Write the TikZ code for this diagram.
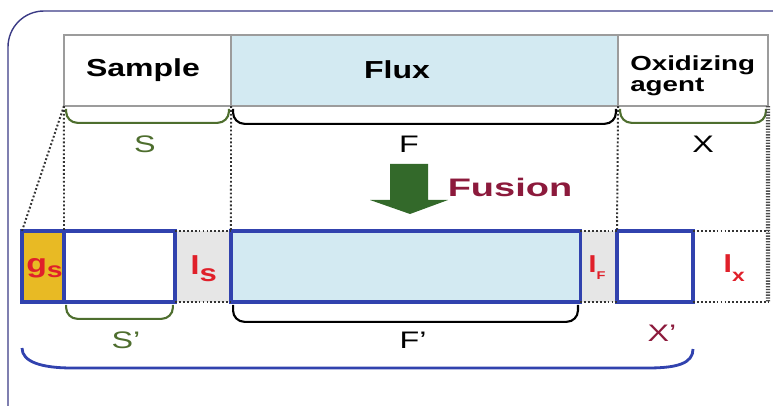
\documentclass[tikz,border=0pt]{standalone}
\usepackage{fontspec}
\setmainfont{Liberation Sans}
\usepackage{graphicx}
\usetikzlibrary{positioning,calc}

\definecolor{frameblue}{HTML}{3A3A85}
\definecolor{boxgray}{HTML}{9C9C9C}
\definecolor{fluxblue}{HTML}{D3EAF2}
\definecolor{leafgreen}{HTML}{4E6E2E}
\definecolor{arrowgreen}{HTML}{33692A}
\definecolor{wine}{HTML}{8C1A3C}
\definecolor{labred}{HTML}{E0202A}
\definecolor{rimblue}{HTML}{3142AE}
\definecolor{gold}{HTML}{E8BA24}
\definecolor{lossgray}{HTML}{E6E6E6}

\newcommand{\wide}[2][1.35]{\scalebox{#1}[1]{#2}}
\newcommand{\losslab}[4]{\wide[1.3]{#1\raisebox{-#4}{\fontsize{#3}{#3}\selectfont #2}}}

\begin{document}
\begin{tikzpicture}[
    x=0.025cm, y=-0.025cm,
    tbox/.style={draw=boxgray, line width=1.4pt, inner sep=0pt, outer sep=0pt, minimum height=1.775cm},
    bbox/.style={draw=rimblue, line width=2.2pt, inner sep=0pt, outer sep=0pt, minimum height=1.775cm},
    gbox/.style={inner sep=0pt, outer sep=0pt, minimum height=1.775cm},
    hd/.style={inner sep=0pt, font=\bfseries\fontsize{17.5}{20}\selectfont},
    hdsm/.style={inner sep=0pt, anchor=base west, font=\bfseries\fontsize{14.5}{15}\selectfont},
    lbl/.style={inner sep=0pt, font=\fontsize{17}{20}\selectfont},
    loss/.style={inner sep=0pt, anchor=base west, text=labred, font=\bfseries\fontsize{18.5}{20}\selectfont},
    dots/.style={dash pattern=on 1.3pt off 1.5pt, line width=1.4pt, black!80},
    brc/.style={line width=1.5pt, rounded corners=8pt}
]
\useasboundingbox (0,0) rectangle (773,406);
\draw[frameblue, line width=1pt, rounded corners=0.9cm] (8,406) -- (8,11) -- (773,11);

\node[tbox, fill=white, minimum width=4.175cm] (sample) at (147.5,70.5) {};
\node[tbox, fill=fluxblue, minimum width=9.675cm] (flux) at (424.5,70.5) {};
\node[tbox, fill=white, minimum width=3.75cm] (oxid) at (693,70.5) {};
\node[hd] (samtxt) at (143,70) {\wide[1.3]{Sample}};
\node[hd] (flxtxt) at (397,70) {\wide[1.3]{Flux}};
\node[hdsm] (oxtxt) at (630,71) {\wide[1.36]{Oxidizing}};
\node[hdsm] (agtxt) at (630,91.5) {\wide[1.36]{agent}};

\draw[brc, leafgreen] ([xshift=1.5pt,yshift=-2pt]sample.south west) -- ++(0,14) -| ([xshift=-1.5pt,yshift=-2pt]sample.south east);
\draw[brc, black] ([xshift=1.5pt,yshift=-2pt]flux.south west) -- ++(0,15) -| ([xshift=-1.5pt,yshift=-2pt]flux.south east);
\draw[brc, leafgreen] ([xshift=1.5pt,yshift=-2pt]oxid.south west) -- ++(0,14) -| ([xshift=-1.5pt,yshift=-2pt]oxid.south east);
\node[lbl, text=leafgreen] (stxt) at (145,144) {\wide{S}};
\node[lbl] (ftxt) at (409,144) {\wide{F}};
\node[lbl] (xtxt) at (703,144) {\wide{X}};

\fill[arrowgreen] (390,164) -- (428,164) -- (428,200) -- (448,200) -- (410,214) -- (370,200) -- (390,200) -- cycle;
\node[hd, text=wine, font=\bfseries\fontsize{18}{20}\selectfont] (fustxt) at (510,187) {\wide[1.5]{Fusion}};

\node[gbox, fill=lossgray, minimum width=1.4cm] (lsbox) at (203,266.5) {};
\node[gbox, fill=lossgray, minimum width=0.925cm] (lfbox) at (598.5,266.5) {};
\node[gbox, minimum width=1.875cm] (lxbox) at (730.5,266.5) {};
\node[bbox, fill=gold, minimum width=1.05cm] (gs) at (43,266.5) {};
\node[bbox, fill=white, minimum width=2.775cm] (sp) at (119.5,266.5) {};
\node[bbox, fill=fluxblue, minimum width=8.725cm] (fp) at (405.5,266.5) {};
\node[bbox, fill=white, minimum width=1.9cm] (xp) at (655,266.5) {};

\draw[dots] (sample.south west) -- (gs.north west);
\draw[dots] (sample.south west) -- (sp.north west);
\draw[dots] (sample.south east) -- (fp.north west);
\draw[dots] (flux.south east) -- (xp.north west);
\draw[dots] (sp.north east) -- (fp.north west);
\draw[dots] (sp.south east) -- (fp.south west);
\draw[dots] (fp.north east) -- (xp.north west);
\draw[dots] (fp.south east) -- (xp.south west);
\draw[dots] (xp.north east) -- (lxbox.north east);
\draw[dots] (xp.south east) -- (lxbox.south east);
\draw[dash pattern=on 1pt off 1pt, line width=3pt, black!70] (oxid.south east) -- (lxbox.south east);

\node[loss] (gstxt) at (26,272) {\losslab{g}{s}{15.5}{4pt}};
\node[loss] (lstxt) at (190,274) {\losslab{l}{s}{17}{5.5pt}};
\node[loss, font=\bfseries\fontsize{16.5}{18}\selectfont] (lftxt) at (588,272) {\losslab{l}{F}{8}{5.5pt}};
\node[loss, font=\bfseries\fontsize{17.5}{18}\selectfont] (lxtxt) at (723,272) {\losslab{l}{x}{12.5}{7pt}};

\draw[brc, leafgreen] ([xshift=1.5pt,yshift=-2pt]sp.south west) -- ++(0,14) -| ([xshift=-1.5pt,yshift=-2pt]sp.south east);
\draw[brc, black] ([xshift=1.5pt,yshift=-2pt]fp.south west) -- ++(0,17) -| ([xshift=-1.5pt,yshift=-2pt]fp.south east);
\node[lbl, text=leafgreen] (sptxt) at (126,340) {\wide{S’}};
\node[lbl] (fptxt) at (413,340) {\wide{F’}};
\node[lbl, text=wine] (xptxt) at (662,333) {\wide{X’}};

\coordinate (cl) at ($(gs.south west)+(0,46)$);
\coordinate (cr) at ($(xp.south east)+(0,47)$);
\draw[rimblue, line width=2pt] (cl) .. controls +(0,14) and +(-30,0) .. (72,368) -- (648,368) .. controls +(30,0) and +(0,14) .. (cr);
\end{tikzpicture}
\end{document}
